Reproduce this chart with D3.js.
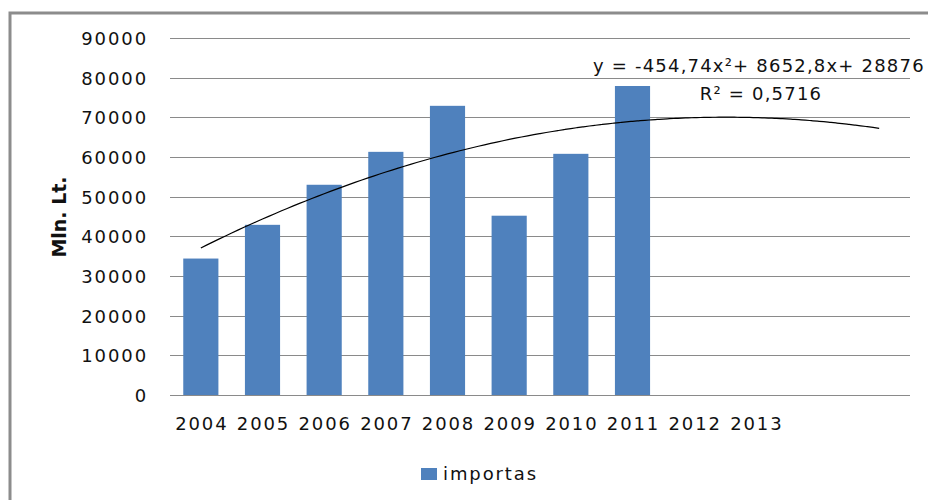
<!DOCTYPE html>
<html><head><meta charset="utf-8">
<script src="https://cdn.jsdelivr.net/npm/d3@7"></script>
<style>
html,body{margin:0;padding:0;background:#fff;}
svg{display:block;}
text{font-family:"DejaVu Sans",Verdana,sans-serif;}
</style></head>
<body>
<svg id="c" width="928" height="500"></svg>
<script>
const categories = ["2004","2005","2006","2007","2008","2009","2010","2011","2012","2013","",""];
const catKeys = ["2004","2005","2006","2007","2008","2009","2010","2011","2012","2013","2014","2015"];
const importas = [34400, 42900, 53000, 61300, 72900, 45200, 60800, 77900];
const yTicks = [0,10000,20000,30000,40000,50000,60000,70000,80000,90000];
const trendCoef = [-454.74, 8652.8, 28876]; // from the equation label
const trendLabel = "y = -454,74x\u00B2+ 8652,8x+ 28876";
const r2Label = "R\u00B2 = 0,5716";
const seriesName = "importas";
const yTitle = "Mln. Lt.";

const svg = d3.select("#c");
const L = 170, R = 910, T = 38, B = 395;

// outer border
svg.append("rect").attr("x",10).attr("y",13).attr("width",940).attr("height",520)
  .attr("fill","none").attr("stroke","#8c8c8c").attr("stroke-width",3);

const x = d3.scaleBand().domain(catKeys).range([L,R]).paddingInner(0.43).paddingOuter(0.215);
const y = d3.scaleLinear().domain([0,90000]).range([B,T]);

// gridlines
svg.append("g").selectAll("line").data(yTicks).join("line")
  .attr("x1",L).attr("x2",R)
  .attr("y1",d=>Math.round(y(d))+0.5).attr("y2",d=>Math.round(y(d))+0.5)
  .attr("stroke","#8a8a8a").attr("stroke-width",1.2);

// y axis labels
const yAxis = d3.axisLeft(y).tickValues(yTicks).tickSize(0).tickPadding(0).tickFormat(d=>String(d));
const gy = svg.append("g").attr("transform",`translate(148,0)`).call(yAxis);
gy.select(".domain").remove();
gy.selectAll("text").attr("font-size",18).attr("letter-spacing","1.9px")
  .attr("font-family","DejaVu Sans").attr("fill","#111").attr("dy","0.36em");

// bars
svg.append("g").selectAll("rect").data(importas).join("rect")
  .attr("x",(d,i)=>x(catKeys[i])).attr("width",x.bandwidth())
  .attr("y",d=>y(d)).attr("height",d=>B-y(d)).attr("fill","#4f81bd");

// x axis labels
const xAxis = d3.axisBottom(x).tickSize(0).tickPadding(0).tickFormat((d,i)=>categories[i]);
const gx = svg.append("g").attr("transform",`translate(1,${B})`).call(xAxis);
gx.select(".domain").remove();
gx.selectAll("text").attr("font-size",18).attr("letter-spacing","1.9px")
  .attr("font-family","DejaVu Sans").attr("fill","#111").attr("dy","1.95em");

// polynomial trendline (x = 1..12 mapped to band centres)
const step = x.step();
const xt = d3.scaleLinear().domain([1,12]).range([x(catKeys[0])+x.bandwidth()/2, x(catKeys[11])+x.bandwidth()/2]);
const tPts = d3.range(1, 12.001, 0.1).map(t=>[t, trendCoef[0]*t*t + trendCoef[1]*t + trendCoef[2]]);
svg.append("path").datum(tPts)
  .attr("d", d3.line().x(d=>xt(d[0])).y(d=>y(d[1])).curve(d3.curveMonotoneX))
  .attr("fill","none").attr("stroke","#000").attr("stroke-width",1.2);

// equation labels
svg.append("text").attr("x",593).attr("y",72).attr("font-size",18).attr("letter-spacing","1.2px")
  .attr("fill","#111").text(trendLabel);
svg.append("text").attr("x",761).attr("y",100).attr("text-anchor","middle").attr("font-size",18)
  .attr("letter-spacing","1.2px").attr("fill","#111").text(r2Label);

// y title
svg.append("text").attr("transform","translate(66,217) rotate(-90)").attr("text-anchor","middle")
  .attr("font-family","Liberation Sans, Arial, sans-serif").attr("font-weight","bold")
  .attr("font-size",19).attr("fill","#111").text(yTitle);

// legend
svg.append("rect").attr("x",421).attr("y",468).attr("width",16).attr("height",12).attr("fill","#4f81bd");
svg.append("text").attr("x",443).attr("y",480).attr("font-size",18).attr("letter-spacing","1.9px")
  .attr("fill","#111").text(seriesName);
</script>
</body></html>
